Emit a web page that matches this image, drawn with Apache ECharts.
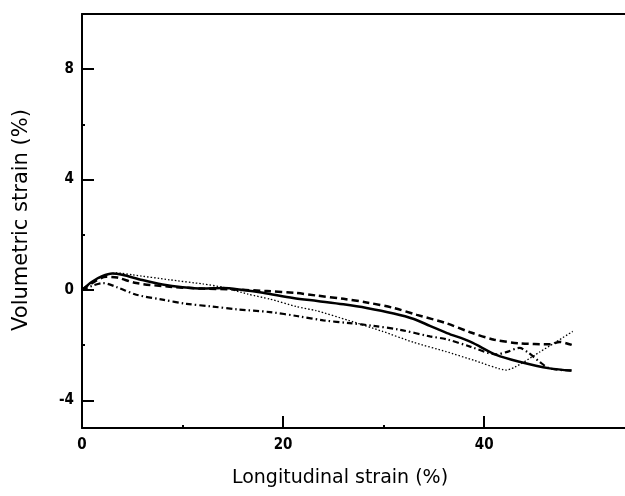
<!DOCTYPE html>
<html>
<head>
<meta charset="utf-8">
<script src="https://cdn.jsdelivr.net/npm/echarts@6/dist/echarts.min.js"></script>
<style>html,body{margin:0;padding:0;background:#fff}#c{width:625px;height:496px}</style>
</head>
<body>
<div id="c"></div>
<script>
// Data (longitudinal strain %, volumetric strain %)
var solidData = [[0,0],[1,0.3],[2,0.5],[3,0.6],[4,0.55],[6,0.36],[8,0.2],[10,0.1],[12,0.05],[14,0.07],[16,0],[18,-0.1],[21,-0.29],[23.4,-0.4],[26,-0.52],[28.3,-0.65],[31,-0.85],[33,-1.05],[34.6,-1.3],[36.3,-1.56],[38.6,-1.87],[41.2,-2.35],[43.5,-2.6],[46.5,-2.84],[48.7,-2.92]];
var dashedData = [[0,0],[1,0.25],[2.4,0.48],[3.5,0.45],[5.4,0.25],[8.7,0.12],[12,0.05],[15,0.02],[18.4,-0.04],[21.3,-0.11],[23.3,-0.2],[26,-0.32],[28.3,-0.45],[31,-0.65],[33.3,-0.9],[36.2,-1.2],[38.6,-1.53],[41,-1.8],[43.5,-1.93],[46.5,-1.97],[47.5,-1.88],[48.7,-1.99]];
var dottedData = [[0,0],[1.5,0.4],[3.4,0.62],[5,0.55],[8.7,0.37],[12,0.22],[14,0.1],[16.5,-0.15],[18.7,-0.33],[21.3,-0.6],[23.3,-0.75],[26.5,-1.1],[29.9,-1.5],[33,-1.9],[36.2,-2.23],[39,-2.55],[42.2,-2.9],[45.5,-2.25],[48.8,-1.5]];
var dashDotData = [[0,0],[1,0.15],[2.1,0.25],[3.5,0.1],[5.4,-0.17],[8,-0.35],[10.4,-0.5],[13,-0.6],[15.4,-0.7],[18.7,-0.8],[21.5,-0.95],[24,-1.1],[26.6,-1.2],[29,-1.3],[31.6,-1.44],[34.6,-1.68],[36.2,-1.78],[38.6,-2.05],[41.2,-2.33],[42.2,-2.25],[43.5,-2.1],[44.3,-2.25],[45.5,-2.6],[46.5,-2.84],[48.7,-2.92]];
var xMajorTicks = [20, 40];
var xMinorTicks = [10, 30];
var xLabels = [0, 20, 40];
var yMajorTicks = [-4, 0, 4, 8];
var yMinorTicks = [-2, 2, 6];
var yLabels = [-4, 0, 4, 8];
var xTitle = 'Longitudinal strain (%)';
var yTitle = 'Volumetric strain (%)';

var labelFont = {fontFamily: 'DejaVu Sans Condensed', fontWeight: 'bold', fontSize: 15, color: '#000'};
var chart = echarts.init(document.getElementById('c'), null, {renderer: 'canvas'});
var grid = {left: 82, right: 0, top: 14, bottom: 68};
chart.setOption({
  backgroundColor: '#fff',
  animation: false,
  grid: grid,
  xAxis: [
    {type: 'value', min: 0, max: 54, position: 'bottom', splitLine: {show: false},
     axisLine: {show: true, onZero: false, lineStyle: {color: '#000', width: 2}},
     axisTick: {show: true, inside: true, length: 12, customValues: xMajorTicks, lineStyle: {color: '#000', width: 2}},
     axisLabel: Object.assign({customValues: xLabels, margin: 10}, labelFont)},
    {type: 'value', min: 0, max: 54, position: 'bottom', splitLine: {show: false},
     axisLine: {show: false, onZero: false},
     axisTick: {show: true, inside: true, length: 3, customValues: xMinorTicks, lineStyle: {color: '#000', width: 2}},
     axisLabel: {show: false}},
    {type: 'value', min: 0, max: 54, position: 'top', splitLine: {show: false},
     axisLine: {show: true, onZero: false, lineStyle: {color: '#000', width: 2}},
     axisTick: {show: false}, axisLabel: {show: false}}
  ],
  yAxis: [
    {type: 'value', min: -5, max: 10, position: 'left', splitLine: {show: false},
     axisLine: {show: true, onZero: false, lineStyle: {color: '#000', width: 2}},
     axisTick: {show: true, inside: true, length: 12, customValues: yMajorTicks, lineStyle: {color: '#000', width: 2}},
     axisLabel: Object.assign({customValues: yLabels, margin: 8}, labelFont)},
    {type: 'value', min: -5, max: 10, position: 'left', splitLine: {show: false},
     axisLine: {show: false, onZero: false},
     axisTick: {show: true, inside: true, length: 3, customValues: yMinorTicks, lineStyle: {color: '#000', width: 2}},
     axisLabel: {show: false}}
  ],
  graphic: [
    {type: 'text', x: 340, y: 478,
     style: {text: xTitle, font: '19px "DejaVu Sans"', fill: '#000', align: 'center', verticalAlign: 'middle'}},
    {type: 'text', x: 22, y: 220, rotation: Math.PI / 2, originX: 0, originY: 0,
     style: {text: yTitle, font: '21px "DejaVu Sans"', fill: '#000', align: 'center', verticalAlign: 'middle'}}
  ],
  series: [
    {type: 'line', data: solidData, showSymbol: false, smooth: 0.3, lineStyle: {color: '#000', width: 2.5}},
    {type: 'line', data: dashedData, showSymbol: false, smooth: 0.3, lineStyle: {color: '#000', width: 2.5, type: [7, 4]}},
    {type: 'line', data: dottedData, showSymbol: false, smooth: 0.2, lineStyle: {color: '#000', width: 1.3, type: [1.5, 2]}},
    {type: 'line', data: dashDotData, showSymbol: false, smooth: 0.3, lineStyle: {color: '#000', width: 2.2, type: [6, 3, 1.5, 3]}}
  ]
});
</script>
</body>
</html>
